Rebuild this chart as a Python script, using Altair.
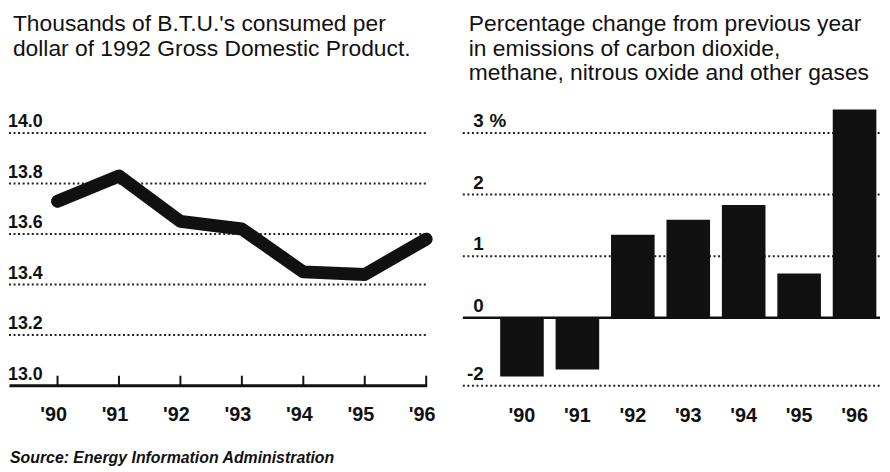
import altair as alt
import pandas as pd

# ---- data ----
years = [1990, 1991, 1992, 1993, 1994, 1995, 1996]
year_labels = ["'90", "'91", "'92", "'93", "'94", "'95", "'96"]
btu_per_dollar = [13.73, 13.83, 13.65, 13.62, 13.45, 13.44, 13.58]
emission_change = [-0.95, -0.84, 1.35, 1.59, 1.83, 0.72, 3.38]

left_grid = [13.2, 13.4, 13.6, 13.8, 14.0]
left_ticks = [13.0, 13.2, 13.4, 13.6, 13.8, 14.0]
left_tick_labels = ["13.0", "13.2", "13.4", "13.6", "13.8", "14.0"]

right_grid = [3, 2, 1, -1.1]
right_ticks = [3, 2, 1, 0, -1.1]
right_tick_labels = ["3", "2", "1", "0", "-2"]

left_title = ["Thousands of B.T.U.'s consumed per",
              "dollar of 1992 Gross Domestic Product."]
right_title = ["Percentage change from previous year",
               "in emissions of carbon dioxide,",
               "methane, nitrous oxide and other gases"]
source_note = "Source: Energy Information Administration"

# ---- tables ----
years_df = pd.DataFrame({"year": years, "label": year_labels})
left_df = pd.DataFrame({"year": years, "value": btu_per_dollar})
right_df = pd.DataFrame({"year": years, "value": emission_change})
lgrid_df = pd.DataFrame({"v": left_grid})
lticks_df = pd.DataFrame({"v": left_ticks, "label": left_tick_labels})
rgrid_df = pd.DataFrame({"v": right_grid})
rticks_df = pd.DataFrame({"v": right_ticks, "label": right_tick_labels})
one = pd.DataFrame({"k": [0]})

FONT = "Liberation Sans, Arial, Helvetica, sans-serif"
INK = "#111111"
LW, LH = 424, 255
RW, RH = 421, 255

lx = alt.Scale(domain=[1989.194, 1996.032], nice=False, zero=False)
ly = alt.Scale(domain=[13.0, 14.0], nice=False, zero=False)
rx = alt.Scale(domain=[1989.0227, 1996.3700], nice=False, zero=False)
ry = alt.Scale(domain=[-1.1, 3.0], nice=False, zero=False)

DOT = dict(strokeDash=[2, 2.6], strokeWidth=2, color="#222222")

# ---------------- left panel ----------------
l_grid = alt.Chart(lgrid_df).mark_rule(**DOT).encode(
    y=alt.Y("v:Q", scale=ly, axis=None),
    x=alt.value(1), x2=alt.value(LW))

l_base = alt.Chart(one).mark_rule(strokeWidth=3, color=INK).encode(
    y=alt.Y(datum=13.0, scale=ly, axis=None),
    x=alt.value(1.5), x2=alt.value(LW - 1))

l_tickmarks = alt.Chart(years_df).mark_rule(strokeWidth=2, color=INK).encode(
    x=alt.X("year:Q", scale=lx, axis=None),
    y=alt.value(LH), y2=alt.value(LH - 10))

l_xlabels = alt.Chart(years_df).mark_text(
    fontSize=20, fontWeight="bold", baseline="alphabetic", align="center",
    dx=-4, color=INK
).encode(x=alt.X("year:Q", scale=lx, axis=None), y=alt.value(291), text="label:N")

l_ylabels = alt.Chart(lticks_df).mark_text(
    fontSize=18, fontWeight="bold", baseline="alphabetic", align="left",
    dy=-6, color=INK
).encode(y=alt.Y("v:Q", scale=ly, axis=None), x=alt.value(0), text="label:N")

l_line = alt.Chart(left_df).mark_line(
    strokeWidth=13, strokeCap="round", strokeJoin="round", color=INK
).encode(x=alt.X("year:Q", scale=lx, axis=None),
         y=alt.Y("value:Q", scale=ly, axis=None))

l_title = alt.Chart(one).mark_text(
    fontSize=23, baseline="alphabetic", align="left", lineHeight=25, color=INK
).encode(x=alt.value(5), y=alt.value(-103), text=alt.value(left_title))

l_source = alt.Chart(one).mark_text(
    fontSize=16, fontStyle="italic", fontWeight="bold",
    baseline="alphabetic", align="left", color=INK
).encode(x=alt.value(2), y=alt.value(333), text=alt.value(source_note))

left = alt.layer(l_grid, l_base, l_tickmarks, l_line, l_xlabels, l_ylabels,
                 l_title, l_source).properties(width=LW, height=LH)

# ---------------- right panel ----------------
r_grid = alt.Chart(rgrid_df).mark_rule(**DOT).encode(
    y=alt.Y("v:Q", scale=ry, axis=None),
    x=alt.value(0), x2=alt.value(RW))

r_zero = alt.Chart(one).mark_rule(strokeWidth=2.5, color=INK).encode(
    y=alt.Y(datum=0, scale=ry, axis=None),
    x=alt.value(0), x2=alt.value(RW))

r_bars = alt.Chart(right_df).mark_bar(size=44, color=INK).encode(
    x=alt.X("year:Q", scale=rx, axis=None),
    y=alt.Y("value:Q", scale=ry, axis=None),
    y2=alt.Y2(datum=0))

r_xlabels = alt.Chart(years_df).mark_text(
    fontSize=20, fontWeight="bold", baseline="alphabetic", align="center",
    color=INK
).encode(x=alt.X("year:Q", scale=rx, axis=None), y=alt.value(292), text="label:N")

r_ylabels = alt.Chart(rticks_df).mark_text(
    fontSize=19, fontWeight="bold", baseline="alphabetic", align="right",
    dy=-6, color=INK
).encode(y=alt.Y("v:Q", scale=ry, axis=None), x=alt.value(21), text="label:N")

r_pct = alt.Chart(pd.DataFrame({"v": [3]})).mark_text(
    fontSize=19, fontWeight="bold", baseline="alphabetic", align="left",
    dy=-6, color=INK
).encode(y=alt.Y("v:Q", scale=ry, axis=None), x=alt.value(27), text=alt.value("%"))

r_title = alt.Chart(one).mark_text(
    fontSize=23, baseline="alphabetic", align="left", lineHeight=25, color=INK
).encode(x=alt.value(6), y=alt.value(-103), text=alt.value(right_title))

right = alt.layer(r_grid, r_zero, r_bars, r_xlabels, r_ylabels, r_pct,
                  r_title).properties(width=RW, height=RH)

chart = alt.hconcat(left, right, spacing=35, bounds="flush").properties(
    padding={"left": 0, "top": 3, "right": 0, "bottom": 0}
).configure(font=FONT, background="white").configure_view(stroke=None)

chart.save("out.html", embed_options={"renderer": "svg", "actions": False})
